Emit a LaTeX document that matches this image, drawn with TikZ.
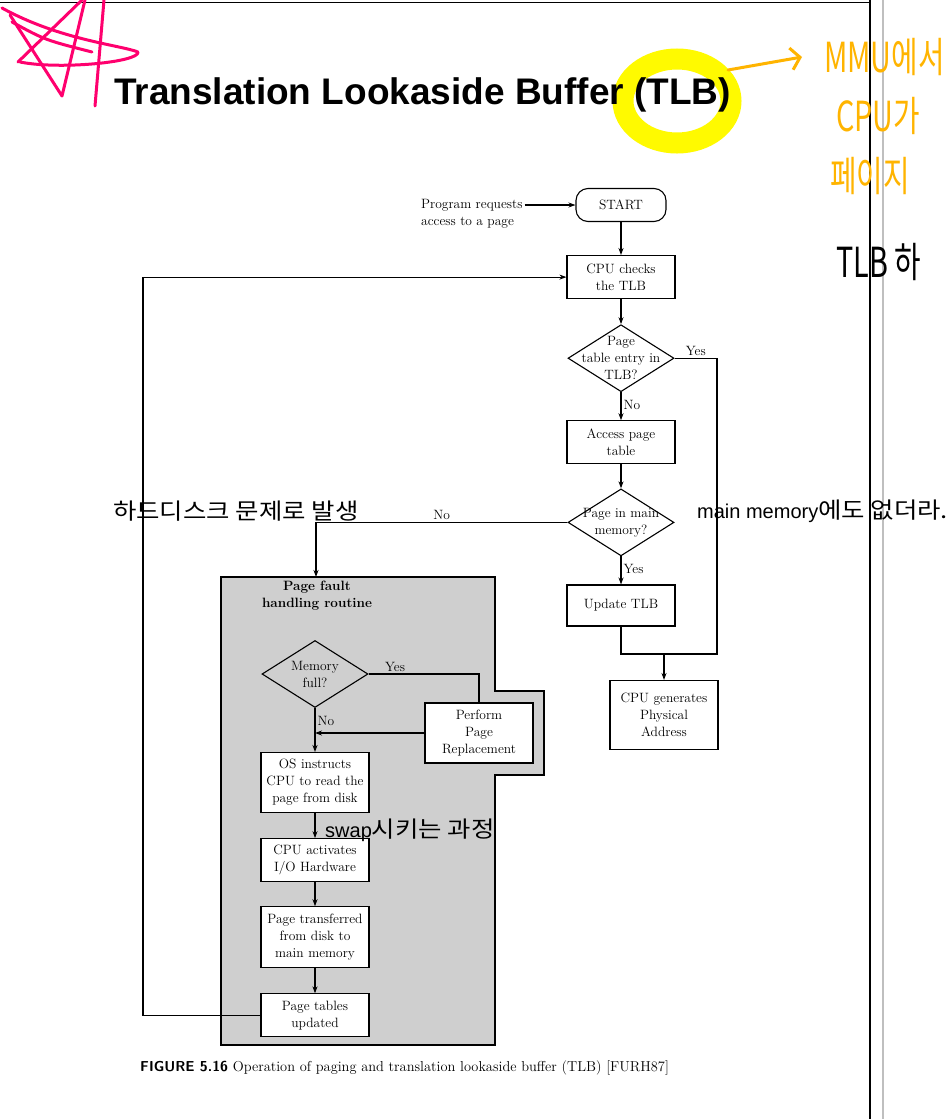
\documentclass[tikz,border=0pt]{standalone}
\usepackage{fontspec}
\usepackage{xcolor}
\usepackage{tikz}
\usetikzlibrary{shapes.geometric, arrows.meta, positioning, calc}
\newfontfamily\titlefont{Liberation Sans}
\newfontfamily\kr{Noto Sans CJK KR}
\definecolor{pinkpen}{RGB}{255,0,110}
\definecolor{orangepen}{RGB}{255,180,0}
\definecolor{hilite}{RGB}{255,250,0}
\tikzstyle{block} = [rectangle, draw, fill=white, line width=1.1pt, text width=104pt, inner xsep=2pt, inner ysep=2pt, align=center, minimum height=43pt, font=\fontsize{13.5}{17}\selectfont]
\tikzstyle{decision} = [diamond, draw, line width=1.1pt, minimum width=106pt, minimum height=67pt, inner sep=0pt]
\tikzstyle{startstop} = [rectangle, rounded corners=12pt, draw, fill=white, line width=1.1pt, minimum width=90pt, minimum height=33pt, font=\fontsize{13.5}{17}\selectfont]
\tikzstyle{lbl} = [font=\fontsize{13.5}{17}\selectfont, inner sep=2pt, align=center]
\tikzstyle{conn} = [line width=1.2pt]
\tikzstyle{arrow} = [line width=1.2pt, -{Stealth[length=7pt,width=5pt]}]
\tikzstyle{note} = [font=\kr\fontsize{22.5}{26}\selectfont, inner sep=0pt, anchor=west]
\tikzstyle{hand} = [font=\kr\fontsize{36}{40}\selectfont, anchor=west, inner sep=0pt]
\tikzstyle{pen} = [line width=3pt, line cap=round, line join=round]
\newcommand{\lat}[1]{{\titlefont\fontsize{20}{24}\selectfont #1}}
\newcommand{\hw}[1]{\scalebox{1.13}[1]{#1}}
\newcommand{\tall}[1]{\scalebox{0.8}[1.15]{#1}}

\begin{document}
\begin{tikzpicture}[x=1pt, y=-1pt]
  \useasboundingbox[fill=white] (0,0) rectangle (951,1119);
  % page edges of the screenshot
  \draw[line width=1pt] (0,2) -- (870,2);
  \draw[line width=1.3pt] (870,0) -- (870,1119);
  \draw[black!25, line width=1.5pt] (883,0) -- (883,1119);

  % scribbles
  \draw[pen, pinkpen] (10,15) -- (62,96) -- (85,0);
  \draw[pen, pinkpen] (18,62) -- (82,0);
  \draw[pen, pinkpen] (95,106) -- (104,0);
  \draw[pen, pinkpen] (2,8) .. controls (60,40) and (120,45) .. (138,52) .. controls (140,62) and (60,70) .. (20,62);
  \draw[pen, pinkpen] (12,22) .. controls (45,40) .. (92,52);
  \draw[hilite, line width=21pt] (677,101) ellipse [x radius=54, y radius=42];

  \node[font=\titlefont\bfseries\fontsize{37}{44}\selectfont, inner sep=0pt, anchor=west] (title) at (114,95) {Translation Lookaside Buffer (TLB)};

  \draw[pen, orangepen, -{Straight Barb[length=9pt,width=22pt]}] (728,70) -- (802,57);
  \node[hand, text=orangepen] (mmu) at (824,57) {\tall{MMU에서}};
  \node[hand, text=orangepen] (cpuga) at (836,116) {\tall{CPU가}};
  \node[hand, text=orangepen] (page) at (830,176) {\tall{페이지}};
  \node[hand] (tlbh) at (836,262) {\tall{TLB 하}};

  % page fault handling area
  \fill[black!19] (221,577) -- (495,577) -- (495,691) -- (544,691) -- (544,775) -- (495,775) -- (495,1045) -- (221,1045) -- cycle;
  \draw[conn] (221,577) -- (495,577) -- (495,691) -- (544,691) -- (544,775) -- (495,775) -- (495,1045) -- (221,1045) -- cycle;
  \coordinate (pftop) at (316,577);
  \node[lbl, font=\bfseries\fontsize{13.5}{17}\selectfont] (pftitle) at (317,596) {Page fault\\handling routine};

  % main column
  \node[lbl, align=left, anchor=west] (req) at (419,214) {Program requests\\access to a page};
  \node[startstop] (start) at (621,205) {START};
  \node[block, below=33pt of start] (checktlb) {CPU checks\\the TLB};
  \node[decision, below=25pt of checktlb, label={[lbl]center:Page\\table entry in\\TLB?}] (intlb) {};
  \node[block, below=28pt of intlb] (accesspt) {Access page\\table};
  \node[decision, below=24pt of accesspt, label={[lbl]center:Page in main\\memory?}] (inmem) {};
  \node[block, below=28pt of inmem, minimum height=41pt] (updtlb) {Update TLB};
  \node[block, minimum height=69pt] (physaddr) at (664,715) {CPU generates\\Physical\\Address};
  \coordinate (join) at (717,654);

  % page fault routine
  \node[decision, label={[lbl]center:Memory\\full?}] (memfull) at (315,674) {};
  \node[block, minimum height=60pt] (replace) at (479,733) {Perform\\Page\\Replacement};
  \node[block, below=44pt of memfull, minimum height=60pt] (osread) {OS instructs\\CPU to read the\\page from disk};
  \node[block, below=25pt of osread] (ioact) {CPU activates\\I/O Hardware};
  \node[block, below=24pt of ioact, minimum height=61pt] (transfer) {Page transferred\\from disk to\\main memory};
  \node[block, below=25pt of transfer] (ptupd) {Page tables\\updated};
  \coordinate (loopx) at (143,0);

  \draw[arrow] (req.east |- start.west) -- (start.west);
  \draw[arrow] (start) -- (checktlb);
  \draw[arrow] (checktlb) -- (intlb);
  \draw[arrow] (intlb) -- node[lbl, right, pos=0.45] {No} (accesspt);
  \draw[arrow] (accesspt) -- (inmem);
  \draw[arrow] (inmem) -- node[lbl, right, pos=0.45] {Yes} (updtlb);
  \draw[conn] (intlb.east) -| node[lbl, above, pos=0.25] {Yes} (join) -- (updtlb.south |- join) -- (updtlb.south);
  \draw[arrow] (physaddr.north |- join) -- (physaddr);
  \draw[arrow] (inmem.west) -| node[lbl, above, pos=0.25] {No} (pftop);
  \draw[conn] (memfull.east) -| node[lbl, above, pos=0.12] {Yes} (replace.north);
  \draw[arrow] (memfull) -- node[lbl, right, pos=0.3] {No} (osread);
  \draw[arrow] (replace.west) -- (replace.west -| memfull.south);
  \draw[arrow] (osread) -- (ioact);
  \draw[arrow] (ioact) -- (transfer);
  \draw[arrow] (transfer) -- (ptupd);
  \draw[arrow] (ptupd.west) -- (ptupd.west -| loopx) |- (checktlb.west);

  \node[anchor=west, inner sep=0pt, font=\fontsize{14.4}{17}\selectfont] (caption) at (140,1068) {\textsf{\bfseries FIGURE 5.16} Operation of paging and translation lookaside buffer (TLB) [FURH87]};

  % typed notes
  \node[note] (nhdd) at (113,511) {\hw{하드디스크 문제로 발생}};
  \node[note] (nmain) at (697,511) {\lat{main memory}\hw{에도 없더라.}};
  \node[note] (nswap) at (325,830) {\lat{swap}\hw{시키는 과정}};
\end{tikzpicture}
\end{document}
